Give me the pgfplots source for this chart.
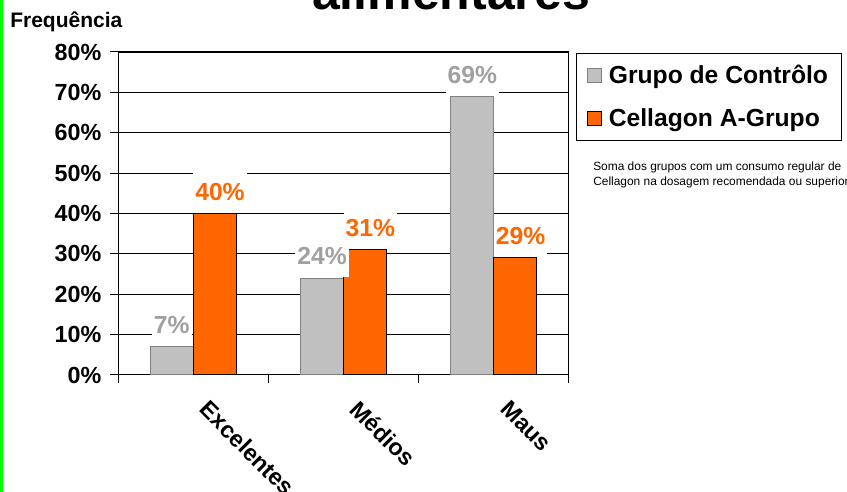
\documentclass[border=0pt]{standalone}
\usepackage{fontspec}
\setmainfont{Liberation Sans}
\usepackage{pgfplots}
\pgfplotsset{compat=1.18}
\definecolor{barGray}{HTML}{C0C0C0}
\definecolor{edgeGray}{HTML}{808080}
\definecolor{lblGray}{HTML}{A0A0A0}
\definecolor{barOrange}{HTML}{FF6600}
\definecolor{sideGreen}{HTML}{00FF00}

\begin{document}
\begin{tikzpicture}
% page = 847x492 px at 0.75pt/px
\clip (0,0) rectangle (635.25pt,369pt);
\fill[white] (0,0) rectangle (635.25pt,369pt);
\fill[sideGreen] (0,0) rectangle (2.25pt,369pt);
\node[anchor=base, inner sep=0, font=\bfseries\fontsize{37.5}{40}\selectfont] at (338.25pt,361.5pt) {alimentares};
\node[anchor=base west, inner sep=0, font=\bfseries\fontsize{15.75}{18}\selectfont] at (7.5pt,348pt) {Frequência};
\node[anchor=north west, align=left, inner sep=0, font=\fontsize{8.95}{11.25}\selectfont] at (444.75pt,248pt)
  {Soma dos grupos com um consumo regular de\\Cellagon na dosagem recomendada ou superior};

\begin{axis}[
  at={(88.5pt,87.75pt)}, anchor=south west,
  scale only axis, width=338.25pt, height=242.25pt,
  ybar=0pt, bar width=0.2857,
  xmin=-0.5, xmax=2.5, ymin=0, ymax=80,
  xtick={-0.5,0.5,1.5,2.5}, xticklabels={},
  extra x ticks={0,1,2},
  extra x tick labels={Excelentes,Médios,Maus},
  extra x tick style={major tick length=0pt,
    xticklabel style={xshift=13pt, yshift=-13pt, rotate=-45, anchor=north west}},
  ytick={0,10,...,80},
  yticklabels={0\%,10\%,20\%,30\%,40\%,50\%,60\%,70\%,80\%},
  yticklabel style={xshift=-3pt},
  tick pos=left,
  tick align=outside, major tick length=6pt,
  ymajorgrids, grid style={black, line width=0.75pt},
  axis line style={black, line width=0.75pt},
  tick style={black, line width=0.75pt},
  ticklabel style={font=\bfseries\fontsize{17.5}{19}\selectfont},
  /pgf/number format/assume math mode=true,
  nodes near coords={\pgfmathprintnumber{\pgfplotspointmeta}\%},
  every node near coord/.append style={font=\bfseries\fontsize{18.5}{20}\selectfont,
    fill=white, inner xsep=1.5pt, inner ysep=9pt, anchor=base, yshift=10pt},
  legend style={at={(1.0155,0.997)}, anchor=north west, draw=black, line width=0.75pt,
    font=\bfseries\fontsize{18.5}{20}\selectfont, row sep=13pt, column sep=3pt,
    inner xsep=8pt, inner ysep=7pt, nodes={inner sep=2pt}},
  legend cell align=left,
  legend image code/.code={\draw[#1, line width=0.75pt] (0pt,-5.25pt) rectangle (10.5pt,5.25pt);},
]
\addplot[fill=barGray, draw=edgeGray, line width=0.75pt,
  every node near coord/.append style={text=lblGray}] coordinates {
  (0,7) (1,24) (2,69)
};
\addplot[fill=barOrange, draw=black, line width=0.75pt,
  every node near coord/.append style={text=barOrange, xshift=4pt}] coordinates {
  (0,40) (1,31) (2,29)
};
\legend{Grupo de Contrôlo, Cellagon A-Grupo}
\draw[black, line width=1.5pt] (rel axis cs:0,1) -- (rel axis cs:1,1);
\end{axis}
\end{tikzpicture}
\end{document}
